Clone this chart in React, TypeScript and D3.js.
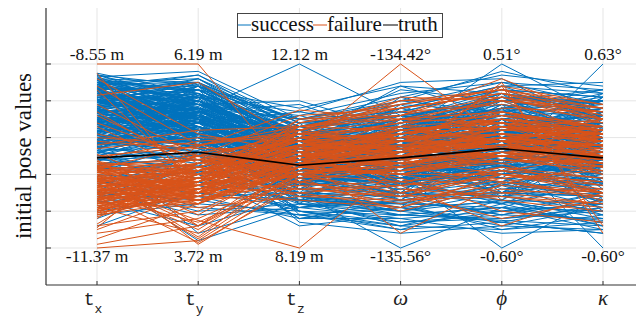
import React from "react";
import * as d3 from "d3";

// parallel coordinates, every value normalised per axis to 0..100
const axisKeys = ["tx", "ty", "tz", "omega", "phi", "kappa"];
const topLabels = ["-8.55 m", "6.19 m", "12.12 m", "-134.42°", "0.51°", "0.63°"];
const bottomLabels = ["-11.37 m", "3.72 m", "8.19 m", "-135.56°", "-0.60°", "-0.60°"];
const gridTicks = [0, 20, 40, 60, 80, 100];

const successLines = [
  [88, 82, 55, 62, 70, 58], [85, 78, 48, 55, 66, 72], [92, 90, 62, 70, 75, 65], [80, 70, 42, 50, 58, 45],
  [75, 72, 50, 48, 62, 55], [70, 66, 38, 42, 50, 35], [90, 86, 58, 60, 82, 78], [82, 75, 45, 58, 55, 48],
  [78, 68, 52, 66, 72, 62], [72, 62, 40, 35, 45, 30], [68, 74, 55, 62, 70, 80], [65, 58, 35, 40, 38, 25],
  [84, 80, 60, 72, 78, 70], [76, 64, 44, 52, 60, 52], [62, 55, 30, 28, 35, 22], [60, 70, 52, 58, 64, 60],
  [87, 84, 50, 46, 48, 42], [74, 78, 62, 68, 80, 74], [71, 60, 36, 30, 28, 20], [66, 64, 46, 55, 58, 50],
  [58, 52, 28, 22, 25, 18], [89, 76, 40, 38, 52, 45], [81, 72, 56, 64, 70, 66], [77, 80, 64, 74, 86, 82],
  [69, 56, 34, 45, 42, 38], [64, 68, 50, 48, 55, 62], [55, 48, 26, 20, 30, 28], [86, 88, 66, 78, 74, 60],
  [83, 70, 46, 50, 45, 40], [79, 74, 54, 60, 68, 72], [73, 66, 42, 56, 62, 58], [67, 62, 38, 36, 40, 44],
  [61, 58, 48, 52, 66, 68], [57, 60, 44, 40, 48, 52], [52, 46, 22, 25, 20, 15], [91, 80, 52, 64, 72, 84],
  [85, 72, 44, 42, 58, 50], [80, 84, 60, 66, 76, 70], [75, 66, 40, 34, 36, 32], [70, 76, 58, 70, 84, 76],
  [65, 54, 32, 30, 26, 24], [60, 64, 48, 54, 60, 56], [54, 50, 36, 44, 50, 46], [48, 44, 30, 38, 34, 30],
  [45, 40, 25, 30, 28, 35], [42, 48, 40, 46, 52, 58], [38, 36, 28, 24, 22, 20], [35, 42, 38, 50, 56, 62],
  [30, 34, 26, 32, 30, 28], [25, 30, 22, 28, 18, 16], [20, 28, 30, 36, 40, 45], [18, 24, 20, 18, 15, 12],
  [93, 96, 70, 62, 66, 58], [90, 92, 64, 58, 62, 68], [86, 94, 68, 72, 70, 64], [78, 75, 100, 72, 58, 62],
  [50, 42, 30, 0, 22, 38], [62, 52, 36, 40, 0, 28], [68, 58, 42, 48, 56, 0], [58, 66, 52, 56, 46, 100],
  [66, 62, 56, 62, 100, 72], [40, 4, 22, 26, 28, 42], [55, 8, 24, 14, 18, 30], [72, 64, 20, 12, 10, 14],
  [84, 70, 18, 10, 14, 8], [76, 60, 14, 8, 12, 22], [64, 52, 16, 16, 8, 10], [88, 78, 72, 84, 90, 86],
  [82, 76, 70, 82, 94, 88], [74, 70, 66, 80, 96, 84], [70, 72, 64, 76, 88, 90], [66, 68, 62, 86, 80, 80],
  [63, 70, 58, 88, 72, 78], [80, 82, 74, 90, 92, 66], [87, 86, 76, 88, 84, 74], [92, 84, 62, 56, 50, 46],
  [89, 80, 56, 50, 44, 36], [77, 73, 50, 44, 40, 34], [73, 69, 46, 40, 46, 40], [69, 65, 44, 46, 50, 48],
  [65, 61, 40, 38, 44, 52], [61, 57, 38, 42, 48, 56], [57, 53, 34, 36, 42, 48], [53, 55, 42, 48, 54, 60],
  [49, 51, 40, 44, 50, 56], [46, 48, 36, 40, 46, 52], [43, 45, 34, 38, 44, 50], [39, 41, 32, 34, 40, 46],
  [84, 66, 28, 34, 64, 76], [79, 71, 60, 38, 24, 44], [71, 80, 44, 66, 30, 58], [63, 74, 68, 28, 70, 36],
  [56, 62, 24, 62, 40, 82], [48, 56, 58, 34, 76, 26], [88, 60, 36, 70, 46, 64], [82, 86, 40, 26, 58, 20],
  [76, 58, 72, 58, 34, 70], [68, 82, 26, 48, 84, 44], [60, 68, 64, 72, 26, 54], [52, 60, 32, 22, 62, 76],
  [44, 66, 54, 60, 44, 34], [36, 52, 42, 76, 68, 72], [28, 46, 60, 44, 30, 50], [22, 40, 48, 64, 74, 80],
  [16, 36, 34, 52, 56, 62], [12, 32, 46, 40, 36, 26], [86, 74, 34, 52, 80, 60], [81, 64, 62, 36, 56, 84],
  [75, 84, 30, 68, 42, 30], [69, 72, 56, 30, 66, 66], [59, 76, 46, 78, 52, 42], [51, 70, 36, 56, 88, 70],
  [91, 68, 46, 28, 40, 56], [85, 62, 66, 54, 32, 38], [79, 90, 52, 64, 54, 50], [72, 56, 28, 46, 70, 32],
  [67, 78, 70, 74, 62, 74], [62, 72, 38, 32, 48, 64], [94, 88, 54, 46, 30, 36], [90, 74, 32, 58, 64, 44],
  [83, 92, 60, 40, 52, 68], [77, 68, 74, 66, 82, 58], [71, 62, 26, 24, 34, 48], [58, 80, 50, 70, 58, 30],
  [54, 74, 62, 50, 78, 40], [47, 64, 44, 66, 60, 76], [41, 58, 56, 36, 26, 64], [34, 50, 38, 58, 48, 24],
  [27, 44, 52, 72, 64, 56], [24, 38, 26, 34, 52, 70], [87, 58, 42, 60, 38, 26], [80, 62, 54, 42, 74, 82],
  [74, 88, 36, 54, 28, 60], [68, 76, 64, 38, 56, 46], [63, 84, 46, 82, 66, 52], [57, 58, 28, 48, 38, 72],
  [50, 66, 52, 30, 70, 34], [45, 56, 34, 64, 82, 60], [92, 78, 58, 76, 60, 40], [86, 90, 48, 36, 42, 74],
  [81, 58, 40, 64, 76, 36], [76, 86, 58, 30, 36, 56], [70, 54, 32, 56, 62, 80], [65, 80, 60, 44, 46, 28],
  [60, 62, 42, 70, 30, 66], [55, 72, 50, 26, 60, 50], [31, 18, 22, 30, 24, 36], [26, 12, 28, 20, 34, 18],
  [38, 22, 18, 12, 20, 30], [44, 28, 16, 22, 14, 24], [90, 70, 24, 20, 26, 12], [60, 40, 12, 18, 22, 10],
  [84, 78, 80, 64, 60, 58], [80, 74, 78, 60, 56, 62],
  [91, 86, 60, 54, 64, 70], [72, 83, 52, 66, 78, 62], [87, 64, 46, 40, 56, 74], [58, 88, 62, 58, 48, 52],
  [83, 71, 56, 70, 82, 80], [66, 77, 48, 44, 62, 46], [94, 81, 58, 62, 72, 68], [77, 58, 64, 52, 44, 40],
  [61, 79, 50, 68, 76, 86], [85, 75, 44, 36, 50, 58], [53, 83, 60, 60, 70, 64], [89, 66, 54, 46, 38, 34],
  [70, 71, 46, 64, 80, 72], [80, 89, 58, 56, 52, 60], [56, 73, 50, 42, 66, 76], [74, 62, 44, 58, 74, 56],
  [92, 75, 56, 50, 46, 42], [64, 69, 48, 66, 84, 78], [86, 63, 42, 38, 56, 66], [59, 80, 54, 54, 64, 50],
  [78, 92, 68, 72, 62, 58], [68, 54, 38, 30, 42, 36], [88, 72, 64, 74, 86, 70], [50, 62, 40, 48, 60, 72],
  [82, 68, 36, 26, 34, 44], [63, 86, 70, 80, 74, 64], [76, 60, 32, 44, 52, 82], [90, 80, 50, 34, 28, 30],
  [57, 74, 62, 62, 58, 46], [84, 90, 56, 48, 70, 76], [71, 66, 42, 56, 64, 54], [95, 84, 66, 60, 54, 66],
  [60, 56, 34, 36, 46, 60], [79, 78, 60, 76, 88, 84], [67, 88, 52, 42, 36, 50], [86, 70, 40, 50, 68, 44],
  [54, 68, 56, 68, 72, 62], [73, 82, 64, 58, 50, 38], [81, 64, 46, 70, 60, 80], [65, 74, 58, 52, 78, 70],
  [93, 76, 48, 38, 44, 56], [62, 84, 66, 74, 68, 48], [75, 70, 54, 64, 56, 74], [87, 82, 62, 56, 76, 62],
  [58, 60, 44, 50, 62, 68], [69, 86, 60, 66, 84, 58], [84, 74, 52, 46, 40, 48], [52, 66, 50, 60, 54, 42],
  [77, 88, 70, 78, 90, 78], [90, 66, 38, 44, 58, 64], [66, 80, 56, 54, 66, 72], [80, 72, 48, 62, 70, 54],
  [55, 58, 40, 34, 48, 62], [72, 76, 62, 72, 80, 86], [88, 94, 64, 50, 46, 52], [63, 64, 42, 40, 54, 58],
  [83, 80, 58, 64, 62, 44], [70, 90, 66, 56, 72, 66], [92, 72, 44, 52, 82, 76], [57, 70, 52, 46, 40, 36],
  [76, 84, 60, 70, 64, 70], [85, 68, 36, 48, 56, 62], [61, 76, 54, 62, 76, 80], [74, 56, 30, 28, 30, 40],
  [89, 90, 68, 66, 60, 54], [67, 62, 46, 58, 70, 60], [79, 86, 62, 52, 48, 46], [54, 72, 58, 64, 80, 74],
  [82, 62, 34, 40, 60, 68], [68, 80, 50, 70, 86, 82], [94, 78, 56, 58, 66, 60], [59, 66, 48, 36, 52, 56],
  [40, 36, 20, 14, 16, 20], [30, 26, 18, 22, 12, 10], [46, 42, 24, 18, 22, 14], [52, 48, 16, 26, 18, 26],
  [36, 30, 26, 12, 26, 16], [44, 38, 30, 20, 14, 8], [28, 34, 22, 16, 20, 24], [34, 20, 24, 24, 10, 18],
  [48, 50, 20, 10, 24, 12], [56, 60, 28, 18, 16, 22],
];

const failureLines = [
  [100, 100, 35, 55, 60, 50],
  [83, 90, 58, 62, 70, 55], [88, 56, 45, 50, 66, 58], [92, 62, 52, 58, 62, 48], [78, 50, 40, 46, 54, 60],
  [72, 46, 48, 60, 68, 52], [66, 40, 55, 52, 74, 64], [60, 56, 62, 66, 58, 44], [95, 30, 50, 62, 70, 58],
  [86, 34, 44, 40, 50, 46], [74, 42, 52, 48, 60, 56], [68, 48, 48, 44, 52, 48], [56, 64, 66, 70, 74, 66],
  [0, 4, 38, 52, 56, 50], [2, 12, 44, 46, 52, 42], [5, 24, 50, 56, 60, 54], [8, 16, 40, 42, 46, 30],
  [10, 30, 56, 64, 68, 62], [12, 20, 46, 50, 50, 44],
  [45, 2, 36, 44, 48, 46], [38, 5, 42, 40, 40, 36], [30, 3, 34, 36, 42, 50], [48, 12, 50, 54, 58, 40],
  [22, 8, 40, 48, 52, 56], [34, 10, 44, 52, 60, 62], [28, 14, 38, 42, 52, 44], [40, 6, 46, 58, 66, 58],
  [35, 15, 0, 45, 55, 48], [33, 42, 55, 100, 60, 56], [26, 38, 50, 8, 35, 45], [44, 40, 56, 34, 12, 30],
  [38, 34, 52, 30, 16, 26], [30, 30, 48, 38, 20, 14], [46, 44, 60, 52, 88, 12], [36, 36, 54, 48, 90, 8],
  [42, 48, 64, 72, 92, 70], [50, 55, 75, 70, 80, 62], [44, 50, 72, 76, 84, 70],
  [18, 26, 44, 58, 70, 64], [20, 34, 50, 70, 68, 62], [22, 36, 62, 70, 74, 66], [24, 28, 46, 62, 72, 68],
  [26, 40, 46, 50, 66, 62], [28, 32, 46, 66, 80, 76], [30, 28, 50, 46, 68, 48], [32, 38, 56, 58, 58, 66],
  [34, 28, 46, 46, 54, 48], [36, 42, 48, 54, 50, 40], [38, 34, 60, 68, 72, 60], [40, 26, 42, 44, 56, 58],
  [42, 48, 58, 50, 60, 46], [44, 30, 54, 62, 66, 50],
  [25, 36, 54, 54, 62, 58], [41, 42, 58, 68, 82, 68], [19, 42, 60, 50, 56, 50], [35, 46, 62, 60, 76, 74],
  [23, 26, 36, 28, 42, 30], [31, 36, 52, 66, 64, 70], [45, 48, 40, 28, 40, 32], [27, 30, 32, 34, 38, 42],
  [37, 50, 60, 62, 74, 60], [21, 40, 58, 58, 66, 62], [43, 34, 40, 36, 44, 38], [29, 32, 50, 50, 58, 54],
  [39, 30, 42, 42, 48, 44], [33, 24, 46, 40, 52, 46],
  [24, 44, 56, 36, 26, 20], [20, 38, 52, 32, 28, 22], [29, 50, 62, 40, 30, 24], [16, 52, 58, 48, 40, 34],
  [13, 46, 52, 44, 36, 30], [11, 56, 64, 54, 50, 46],
  [47, 24, 44, 60, 54, 64], [42, 18, 48, 64, 58, 70], [37, 12, 40, 50, 46, 52], [51, 30, 40, 56, 50, 58],
  [43, 56, 66, 64, 70, 66], [49, 58, 62, 58, 66, 64], [54, 60, 58, 54, 62, 60], [58, 54, 54, 50, 58, 56],
  [62, 50, 50, 46, 54, 52],
  [26, 34, 30, 22, 40, 30], [32, 30, 66, 76, 84, 72], [38, 40, 36, 26, 32, 28], [22, 24, 64, 78, 86, 76],
  [28, 44, 28, 30, 44, 34], [35, 36, 68, 80, 82, 74], [41, 32, 34, 24, 38, 26], [19, 30, 70, 72, 88, 78],
  [24, 38, 32, 28, 30, 32], [30, 46, 66, 74, 78, 70], [36, 26, 30, 34, 42, 38], [44, 42, 62, 80, 86, 72],
  [21, 28, 26, 22, 36, 28], [27, 36, 68, 76, 84, 76], [33, 44, 38, 20, 34, 30], [39, 34, 64, 82, 80, 74],
  [25, 22, 28, 26, 28, 24], [31, 40, 70, 78, 86, 78], [37, 30, 40, 30, 40, 36], [43, 38, 66, 72, 82, 70],
  [20, 32, 50, 58, 54, 46], [26, 42, 60, 66, 70, 62], [32, 26, 40, 50, 58, 56], [38, 36, 48, 62, 66, 58],
  [23, 34, 52, 46, 50, 54], [29, 40, 56, 54, 60, 64], [35, 32, 44, 40, 48, 42], [41, 46, 56, 58, 66, 60],
  [47, 40, 50, 52, 56, 48], [18, 36, 54, 60, 64, 66],
  [24, 30, 44, 56, 60, 54], [30, 38, 52, 64, 68, 58], [36, 44, 56, 52, 58, 50], [42, 28, 46, 48, 54, 56],
  [22, 40, 58, 62, 66, 60], [28, 24, 42, 52, 62, 58], [34, 34, 50, 58, 70, 64], [40, 44, 60, 60, 62, 52],
  [46, 32, 48, 46, 52, 50], [19, 28, 48, 54, 58, 62],
  [25, 46, 60, 68, 72, 66], [31, 34, 46, 42, 50, 46], [37, 42, 54, 56, 62, 60], [43, 26, 44, 50, 60, 54],
  [21, 36, 56, 64, 68, 64], [27, 28, 40, 46, 54, 52], [33, 38, 52, 62, 66, 58], [39, 46, 58, 54, 56, 48],
  [45, 36, 50, 58, 64, 62], [17, 32, 46, 50, 56, 50],
];

const truthLine = [49, 52, 45, 49, 54, 49];

const BLUE = "#0072bd";
const ORANGE = "#d95319";
const GRID = "#e5e5e5";
const SERIF = "Liberation Serif";

export default function App() {
  const width = 636;
  const height = 321;
  const left = 46;
  const top = 8;
  const bottom = 285;

  const x = d3.scalePoint<string>().domain(axisKeys).range([97, 603]);
  const y = d3.scaleLinear().domain([0, 100]).range([248, 64]);

  const line = d3
    .line<number>()
    .x((_, i) => x(axisKeys[i]) as number)
    .y((d) => y(d));

  const tickLabel = (key: string, cx: number) => {
    if (key[0] === "t") {
      return (
        <text x={cx} y={305} textAnchor="middle" fontFamily="Liberation Mono" fontSize={18} fill="#222">
          <tspan dx={-4}>t</tspan>
          <tspan fontSize={13} dy={8}>{key[1]}</tspan>
        </text>
      );
    }
    const glyph = key === "omega" ? "ω" : key === "phi" ? "ϕ" : "κ";
    return (
      <text x={cx} y={305} textAnchor="middle" fontFamily={SERIF} fontStyle="italic" fontSize={21} fill="#222">
        {glyph}
      </text>
    );
  };

  return (
    <svg width={width} height={height} style={{ position: "absolute", left: 0, top: 0, background: "#fff" }}>
      {/* grid */}
      {gridTicks.map((t) => (
        <line key={"h" + t} x1={left} x2={width} y1={y(t)} y2={y(t)} stroke={GRID} strokeWidth={1} />
      ))}
      {axisKeys.map((k) => (
        <line key={"v" + k} x1={x(k)} x2={x(k)} y1={top} y2={bottom} stroke={GRID} strokeWidth={1} />
      ))}

      {/* lines */}
      <g fill="none" strokeWidth={1}>
        {successLines.map((d, i) => (
          <path key={"s" + i} d={line(d) as string} stroke={BLUE} />
        ))}
        {failureLines.map((d, i) => (
          <path key={"f" + i} d={line(d) as string} stroke={ORANGE} />
        ))}
        <path d={line(truthLine) as string} stroke="#000" strokeWidth={1.6} />
      </g>

      {/* axes */}
      <line x1={left} x2={left} y1={top} y2={bottom} stroke="#333" strokeWidth={1.2} />
      <line x1={left} x2={width} y1={bottom} y2={bottom} stroke="#333" strokeWidth={1.2} />
      {gridTicks.map((t) => (
        <line key={"yt" + t} x1={left} x2={left + 5} y1={y(t)} y2={y(t)} stroke="#333" />
      ))}
      {axisKeys.map((k) => (
        <line key={"xt" + k} x1={x(k)} x2={x(k)} y1={bottom} y2={bottom - 4} stroke="#333" />
      ))}

      {/* per-axis extent labels */}
      {axisKeys.map((k, i) => (
        <g key={"lab" + k}>
          <text x={x(k)} y={60} fontFamily={SERIF} fontSize={17.5} textAnchor="middle" fill="#111">
            {topLabels[i]}
          </text>
          <text x={x(k)} y={262} fontFamily={SERIF} fontSize={17.5} textAnchor="middle" fill="#111">
            {bottomLabels[i]}
          </text>
        </g>
      ))}

      {axisKeys.map((k) => (
        <g key={"tl" + k}>{tickLabel(k, x(k) as number)}</g>
      ))}

      <text transform="translate(31,156) rotate(-90)" textAnchor="middle" fontFamily={SERIF} fontSize={23} fill="#111">
        initial pose values
      </text>

      {/* legend */}
      <rect x={237.5} y={13.5} width={205} height={24} fill="#fff" stroke="#444" strokeWidth={1} />
      <line x1={238} x2={251} y1={25} y2={25} stroke={BLUE} />
      <text x={251} y={31} fontFamily={SERIF} fontSize={21} fill="#111">success</text>
      <line x1={313} x2={327} y1={25} y2={25} stroke={ORANGE} />
      <text x={327} y={31} fontFamily={SERIF} fontSize={21} fill="#111">failure</text>
      <line x1={383} x2={398} y1={25} y2={25} stroke="#000" />
      <text x={398} y={31} fontFamily={SERIF} fontSize={21} fill="#111">truth</text>
    </svg>
  );
}
